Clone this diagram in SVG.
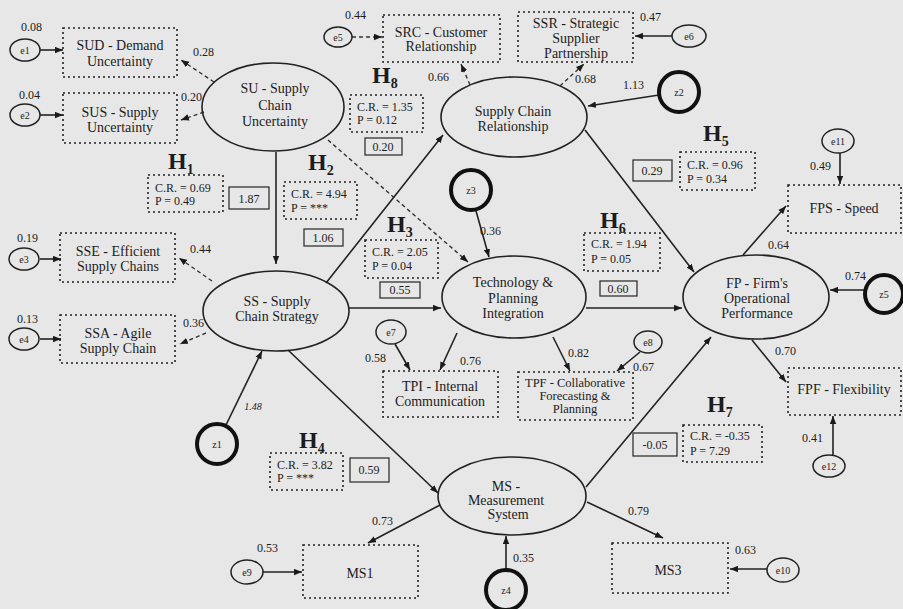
<svg xmlns="http://www.w3.org/2000/svg" width="903" height="609" viewBox="0 0 903 609">
<defs>
<marker id="a" viewBox="0 0 10 8" refX="10" refY="4" markerWidth="8" markerHeight="7" markerUnits="userSpaceOnUse" orient="auto"><path d="M0,0 L10,4 L0,8 z" fill="#1a1a1a"/></marker>
<style>
text{font-family:"Liberation Serif","Times New Roman",serif;fill:#1c1c1c}
.t{font-size:14px;text-anchor:middle}
.s{font-size:12.5px;text-anchor:middle}
.n{font-size:12px}
.c{font-size:12px}
.v{font-size:12px;text-anchor:middle}
.e{font-size:10px;text-anchor:middle}
.h{font-size:24px;font-weight:bold}
.hs{font-size:14px;font-weight:bold}
.box{fill:none;stroke:#222;stroke-width:1.6;stroke-dasharray:2 3}
.sbox{fill:none;stroke:#333;stroke-width:1.3}
.lat{fill:none;stroke:#222;stroke-width:1.6}
.err{fill:none;stroke:#222;stroke-width:1.5}
.dist{fill:none;stroke:#111;stroke-width:4}
.sl{stroke:#222;stroke-width:1.6;fill:none;marker-end:url(#a)}
.dl{stroke:#333;stroke-width:1.4;stroke-dasharray:4 3;fill:none;marker-end:url(#a)}
</style>
</defs>
<rect width="903" height="609" fill="#e7e7e7"/>

<g id="connectors">
<line class="sl" x1="40" y1="50" x2="63" y2="50"/>
<line class="sl" x1="40" y1="115" x2="63" y2="115"/>
<line class="sl" x1="40" y1="259" x2="61" y2="259"/>
<line class="sl" x1="40" y1="339" x2="61" y2="339"/>
<line class="dl" x1="214" y1="82" x2="181" y2="60"/>
<line class="dl" x1="204" y1="112" x2="181" y2="120"/>
<line class="dl" x1="212" y1="281" x2="179" y2="258"/>
<line class="dl" x1="206" y1="333" x2="180" y2="344"/>
<line class="sl" x1="276" y1="152" x2="276" y2="264"/>
<line class="dl" x1="328" y1="140" x2="468" y2="262"/>
<line class="sl" x1="326" y1="283" x2="443" y2="135"/>
<line class="sl" x1="349" y1="308" x2="441" y2="308"/>
<line class="sl" x1="288" y1="350" x2="438" y2="493"/>
<line class="sl" x1="226" y1="425" x2="262" y2="351"/>
<line class="dl" x1="352" y1="37" x2="382" y2="37"/>
<line class="dl" x1="470" y1="85" x2="461" y2="64"/>
<line class="dl" x1="560" y1="86" x2="584" y2="64"/>
<line class="sl" x1="672" y1="36" x2="635" y2="36"/>
<line class="sl" x1="659" y1="95" x2="588" y2="106"/>
<line class="sl" x1="585" y1="130" x2="694" y2="272"/>
<line class="sl" x1="476" y1="211" x2="489" y2="257"/>
<line class="sl" x1="586" y1="308" x2="682" y2="308"/>
<line class="sl" x1="395" y1="344" x2="410" y2="370"/>
<line class="sl" x1="457" y1="333" x2="440" y2="370"/>
<line class="sl" x1="553" y1="337" x2="570" y2="371"/>
<line class="sl" x1="640" y1="352" x2="617" y2="371"/>
<line class="sl" x1="743" y1="255" x2="786" y2="206"/>
<line class="sl" x1="840" y1="153" x2="840" y2="184"/>
<line class="sl" x1="865" y1="290" x2="830" y2="290"/>
<line class="sl" x1="752" y1="340" x2="786" y2="382"/>
<line class="sl" x1="833" y1="455" x2="833" y2="416"/>
<line class="sl" x1="586" y1="487" x2="711" y2="337"/>
<line class="sl" x1="587" y1="502" x2="663" y2="538"/>
<line class="sl" x1="440" y1="505" x2="368" y2="543"/>
<line class="sl" x1="506" y1="570" x2="506" y2="536"/>
<line class="sl" x1="263" y1="572" x2="302" y2="572"/>
<line class="sl" x1="767" y1="569" x2="730" y2="569"/>
</g>

<g id="e1"><ellipse class="err" cx="25" cy="50" rx="15" ry="11"/><text class="e" x="25" y="54">e1</text><text class="n" x="21" y="31">0.08</text></g>
<g id="SUD"><rect class="box" x="63" y="28" width="114" height="49"/><text class="t" x="120" y="50">SUD - Demand</text><text class="t" x="120" y="66">Uncertainty</text><text class="n" x="193" y="56">0.28</text></g>
<g id="e2"><ellipse class="err" cx="25" cy="115" rx="15" ry="11"/><text class="e" x="25" y="119">e2</text><text class="n" x="19" y="99">0.04</text></g>
<g id="SUS"><rect class="box" x="63" y="93" width="114" height="50"/><text class="t" x="120" y="117">SUS - Supply</text><text class="t" x="120" y="132">Uncertainty</text><text class="n" x="181" y="101">0.20</text></g>
<g id="SU"><ellipse class="lat" cx="273" cy="107" rx="71" ry="44"/><text class="t" x="275" y="93">SU - Supply</text><text class="t" x="275" y="110">Chain</text><text class="t" x="275" y="126">Uncertainty</text></g>

<g id="e3"><ellipse class="err" cx="24" cy="259" rx="15" ry="11"/><text class="e" x="24" y="263">e3</text><text class="n" x="17" y="242">0.19</text></g>
<g id="SSE"><rect class="box" x="60" y="233" width="115" height="49"/><text class="t" x="118" y="256">SSE - Efficient</text><text class="t" x="118" y="271">Supply Chains</text><text class="n" x="190" y="253">0.44</text></g>
<g id="e4"><ellipse class="err" cx="24" cy="339" rx="15" ry="11"/><text class="e" x="24" y="343">e4</text><text class="n" x="17" y="323">0.13</text></g>
<g id="SSA"><rect class="box" x="60" y="315" width="115" height="48"/><text class="t" x="118" y="338">SSA - Agile</text><text class="t" x="118" y="353">Supply Chain</text><text class="n" x="183" y="327">0.36</text></g>
<g id="SS"><ellipse class="lat" cx="276" cy="311" rx="73" ry="40"/><text class="t" x="277" y="306">SS - Supply</text><text class="t" x="277" y="321">Chain Strategy</text></g>

<g id="z1"><circle class="dist" cx="217" cy="444" r="20"/><text class="e" x="217" y="448">z1</text><text class="e" x="253" y="410" font-style="italic">1.48</text></g>

<g id="H1"><text class="h" x="168" y="169">H<tspan class="hs" dy="5">1</tspan></text><rect class="box" x="148" y="175" width="75" height="37"/><text class="c" x="155" y="192">C.R. = 0.69</text><text class="c" x="155" y="205">P = 0.49</text><rect class="sbox" x="229" y="187" width="40" height="22"/><text class="v" x="249" y="203">1.87</text></g>
<g id="H2"><text class="h" x="308" y="170">H<tspan class="hs" dy="5">2</tspan></text><rect class="box" x="284" y="182" width="73" height="37"/><text class="c" x="291" y="198">C.R. = 4.94</text><text class="c" x="291" y="212">P = ***</text><rect class="sbox" x="304" y="229" width="39" height="17"/><text class="v" x="323" y="242">1.06</text></g>
<g id="H8"><text class="h" x="372" y="83">H<tspan class="hs" dy="5">8</tspan></text><rect class="box" x="350" y="95" width="73" height="37"/><text class="c" x="357" y="111">C.R. = 1.35</text><text class="c" x="357" y="124">P = 0.12</text><rect class="sbox" x="365" y="138" width="37" height="17"/><text class="v" x="383" y="151">0.20</text></g>
<g id="H3"><text class="h" x="387" y="232">H<tspan class="hs" dy="5">3</tspan></text><rect class="box" x="365" y="240" width="73" height="38"/><text class="c" x="372" y="256">C.R. = 2.05</text><text class="c" x="372" y="270">P = 0.04</text><rect class="sbox" x="380" y="282" width="40" height="16"/><text class="v" x="400" y="294">0.55</text></g>
<g id="H6"><text class="h" x="600" y="228">H<tspan class="hs" dy="5">6</tspan></text><rect class="box" x="584" y="233" width="76" height="38"/><text class="c" x="591" y="248">C.R. = 1.94</text><text class="c" x="591" y="263">P = 0.05</text><rect class="sbox" x="600" y="281" width="37" height="15"/><text class="v" x="618" y="293">0.60</text></g>
<g id="H5"><text class="h" x="703" y="141">H<tspan class="hs" dy="5">5</tspan></text><rect class="box" x="680" y="152" width="75" height="38"/><text class="c" x="687" y="169">C.R. = 0.96</text><text class="c" x="687" y="183">P = 0.34</text><rect class="sbox" x="633" y="160" width="39" height="21"/><text class="v" x="652" y="175">0.29</text></g>
<g id="H4"><text class="h" x="299" y="448">H<tspan class="hs" dy="5">4</tspan></text><rect class="box" x="270" y="453" width="73" height="37"/><text class="c" x="277" y="469">C.R. = 3.82</text><text class="c" x="277" y="482">P = ***</text><rect class="sbox" x="350" y="458" width="39" height="24"/><text class="v" x="369" y="474">0.59</text></g>
<g id="H7"><text class="h" x="707" y="412">H<tspan class="hs" dy="5">7</tspan></text><rect class="box" x="683" y="425" width="79" height="37"/><text class="c" x="690" y="440">C.R. = -0.35</text><text class="c" x="690" y="455">P = 7.29</text><rect class="sbox" x="633" y="433" width="44" height="23"/><text class="v" x="655" y="449">-0.05</text></g>

<g id="e5"><ellipse class="err" cx="338" cy="37" rx="14" ry="10"/><text class="e" x="338" y="41">e5</text><text class="n" x="345" y="19">0.44</text></g>
<g id="SRC"><rect class="box" x="383" y="15" width="117" height="47"/><text class="t" x="441" y="37">SRC - Customer</text><text class="t" x="441" y="51">Relationship</text><text class="n" x="428" y="81">0.66</text></g>
<g id="SSR"><rect class="box" x="518" y="12" width="115" height="50"/><text class="t" x="576" y="28">SSR - Strategic</text><text class="t" x="576" y="43">Supplier</text><text class="t" x="576" y="58">Partnership</text><text class="n" x="575" y="83">0.68</text></g>
<g id="e6"><ellipse class="err" cx="689" cy="36" rx="17" ry="11"/><text class="e" x="689" y="40">e6</text><text class="n" x="640" y="21">0.47</text></g>
<g id="z2"><circle class="dist" cx="679" cy="92" r="20"/><text class="e" x="679" y="96">z2</text><text class="n" x="623" y="89">1.13</text></g>
<g id="SCR"><ellipse class="lat" cx="514" cy="117" rx="73" ry="40"/><text class="t" x="513" y="116">Supply Chain</text><text class="t" x="513" y="131">Relationship</text></g>

<g id="z3"><circle class="dist" cx="471" cy="190" r="20"/><text class="e" x="471" y="194">z3</text><text class="n" x="480" y="235">0.36</text></g>
<g id="TPI_latent"><ellipse class="lat" cx="514" cy="297" rx="72" ry="41"/><text class="t" x="513" y="287">Technology &amp;</text><text class="t" x="513" y="303">Planning</text><text class="t" x="513" y="318">Integration</text></g>
<g id="e7"><ellipse class="err" cx="391" cy="332" rx="15" ry="12"/><text class="e" x="391" y="336">e7</text><text class="n" x="365" y="362">0.58</text></g>
<g id="TPI"><rect class="box" x="383" y="371" width="115" height="46"/><text class="t" x="440" y="391">TPI - Internal</text><text class="t" x="440" y="406">Communication</text><text class="n" x="460" y="365">0.76</text></g>
<g id="e8"><ellipse class="err" cx="648" cy="342" rx="14" ry="11"/><text class="e" x="648" y="346">e8</text><text class="n" x="633" y="371">0.67</text></g>
<g id="TPF"><rect class="box" x="518" y="372" width="115" height="48"/><text class="s" x="575" y="387">TPF - Collaborative</text><text class="s" x="575" y="400">Forecasting &amp;</text><text class="s" x="575" y="413">Planning</text><text class="n" x="568" y="357">0.82</text></g>

<g id="FP"><ellipse class="lat" cx="756" cy="297" rx="73" ry="42"/><text class="t" x="757" y="288">FP - Firm's</text><text class="t" x="757" y="303">Operational</text><text class="t" x="757" y="318">Performance</text></g>
<g id="e11"><ellipse class="err" cx="838" cy="141" rx="16" ry="12"/><text class="e" x="838" y="145">e11</text><text class="n" x="810" y="170">0.49</text></g>
<g id="FPS"><rect class="box" x="788" y="185" width="113" height="48"/><text class="t" x="844" y="213">FPS - Speed</text><text class="n" x="768" y="249">0.64</text></g>
<g id="z5"><circle class="dist" cx="884" cy="294" r="19"/><text class="e" x="884" y="298">z5</text><text class="n" x="845" y="280">0.74</text></g>
<g id="FPF"><rect class="box" x="788" y="368" width="113" height="47"/><text class="t" x="844" y="394">FPF - Flexibility</text><text class="n" x="775" y="355">0.70</text></g>
<g id="e12"><ellipse class="err" cx="829" cy="466" rx="16" ry="11"/><text class="e" x="829" y="470">e12</text><text class="n" x="802" y="442">0.41</text></g>

<g id="MS"><ellipse class="lat" cx="512" cy="496" rx="74" ry="39"/><text class="t" x="506" y="491">MS -</text><text class="t" x="506" y="505">Measurement</text><text class="t" x="508" y="519">System</text></g>
<g id="z4"><circle class="dist" cx="506" cy="590" r="20"/><text class="e" x="506" y="594">z4</text><text class="n" x="513" y="562">0.35</text></g>
<g id="e9"><ellipse class="err" cx="247" cy="572" rx="16" ry="12"/><text class="e" x="247" y="576">e9</text><text class="n" x="257" y="552">0.53</text></g>
<g id="MS1"><rect class="box" x="303" y="545" width="115" height="53"/><text class="t" x="360" y="578">MS1</text><text class="n" x="372" y="525">0.73</text></g>
<g id="MS3"><rect class="box" x="612" y="543" width="116" height="50"/><text class="t" x="668" y="575">MS3</text><text class="n" x="628" y="515">0.79</text></g>
<g id="e10"><ellipse class="err" cx="783" cy="570" rx="16" ry="12"/><text class="e" x="783" y="574">e10</text><text class="n" x="735" y="554">0.63</text></g>
</svg>
